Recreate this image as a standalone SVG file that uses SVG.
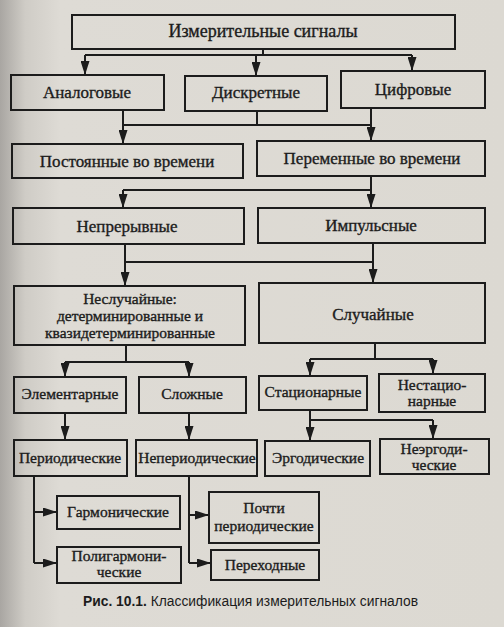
<svg xmlns="http://www.w3.org/2000/svg" width="504" height="627" viewBox="0 0 504 627">
<defs>
<linearGradient id="bg" x1="0" y1="0" x2="1" y2="0">
<stop offset="0" stop-color="#a9a6a2"/>
<stop offset="0.05" stop-color="#cfccc6"/>
<stop offset="0.12" stop-color="#dedbd5"/>
<stop offset="1" stop-color="#dcd9d2"/>
</linearGradient>
<marker id="a" viewBox="0 0 14 9" refX="14" refY="4.5" markerWidth="14" markerHeight="9" markerUnits="userSpaceOnUse" orient="auto">
<path d="M0,0 L14,4.5 L0,9 z" fill="#1c1c1c"/>
</marker>
</defs>
<style>
.b{fill:none;stroke:#1c1c1c;stroke-width:2}
.t{font-family:"Liberation Serif","DejaVu Serif","Times New Roman",serif;fill:#1c1c1c;stroke:#1c1c1c;stroke-width:0.35;text-anchor:middle}
.l{font-size:18px}.m{font-size:17px}.s{font-size:15.5px}
.c{fill:none;stroke:#1c1c1c;stroke-width:2;marker-end:url(#a)}
.p{fill:none;stroke:#1c1c1c;stroke-width:2}
.cap{font-family:"Liberation Sans",Arial,sans-serif;fill:#1c1c1c;font-size:14px}
</style>
<rect x="0" y="0" width="504" height="627" fill="url(#bg)"/>

<g id="connectors">
<path class="p" d="M263,49 V55 M85,55 H412"/>
<path class="c" d="M85,55 V75"/>
<path class="c" d="M256,55 V76"/>
<path class="c" d="M412,55 V71"/>
<path class="p" d="M257,111 V125 M123,125 H371"/>
<path class="c" d="M123,110 V144"/>
<path class="c" d="M371,108 V141"/>
<path class="p" d="M123,190 H371"/>
<path class="c" d="M123,190 V208"/>
<path class="c" d="M371,176 V208"/>
<path class="p" d="M125,262 H373"/>
<path class="c" d="M125,244 V286"/>
<path class="c" d="M373,243 V283"/>
<path class="p" d="M126,345 V362 M65,362 H189"/>
<path class="c" d="M65,362 V377"/>
<path class="c" d="M189,362 V377"/>
<path class="p" d="M375,343 V359 M310,359 H433"/>
<path class="c" d="M310,359 V376"/>
<path class="c" d="M433,359 V374"/>
<path class="c" d="M65,413 V440"/>
<path class="c" d="M189,413 V440"/>
<path class="p" d="M310,410 V420 H433"/>
<path class="c" d="M310,420 V441"/>
<path class="c" d="M433,420 V439"/>
<path class="p" d="M34,476 V563"/>
<path class="c" d="M34,512 H57"/>
<path class="c" d="M34,563 H57"/>
<path class="p" d="M189,476 V563"/>
<path class="c" d="M189,515 H209"/>
<path class="c" d="M189,563 H211"/>
</g>

<g id="n-root"><rect class="b" x="72" y="15" width="383" height="34"/><text class="t l" x="263" y="37">Измерительные сигналы</text></g>
<g id="n-analog"><rect class="b" x="11" y="75" width="153" height="35"/><text class="t m" x="87" y="98">Аналоговые</text></g>
<g id="n-discrete"><rect class="b" x="185" y="76" width="142" height="35"/><text class="t m" x="256" y="98">Дискретные</text></g>
<g id="n-digital"><rect class="b" x="341" y="71" width="144" height="37"/><text class="t m" x="413" y="95">Цифровые</text></g>
<g id="n-const"><rect class="b" x="12" y="144" width="231" height="34"/><text class="t m" x="127" y="167">Постоянные во времени</text></g>
<g id="n-var"><rect class="b" x="257" y="141" width="228" height="35"/><text class="t m" x="372" y="164">Переменные во времени</text></g>
<g id="n-cont"><rect class="b" x="13" y="208" width="231" height="36"/><text class="t m" x="127" y="232">Непрерывные</text></g>
<g id="n-pulse"><rect class="b" x="258" y="208" width="227" height="35"/><text class="t m" x="371" y="231">Импульсные</text></g>
<g id="n-nonrandom"><rect class="b" x="14" y="286" width="231" height="59"/><text class="t s" x="130" y="304">Неслучайные:</text><text class="t s" x="130" y="321">детерминированные и</text><text class="t s" x="130" y="338">квазидетерминированные</text></g>
<g id="n-random"><rect class="b" x="259" y="283" width="226" height="60"/><text class="t m" x="373" y="320">Случайные</text></g>
<g id="n-elem"><rect class="b" x="14" y="377" width="112" height="36"/><text class="t s" x="70" y="399">Элементарные</text></g>
<g id="n-complex"><rect class="b" x="139" y="377" width="107" height="36"/><text class="t s" x="192" y="399">Сложные</text></g>
<g id="n-stat"><rect class="b" x="259" y="376" width="108" height="34"/><text class="t s" x="313" y="397">Стационарные</text></g>
<g id="n-nonstat"><rect class="b" x="379" y="374" width="106" height="38"/><text class="t s" x="432" y="390">Нестацио-</text><text class="t s" x="432" y="406">нарные</text></g>
<g id="n-periodic"><rect class="b" x="14" y="440" width="113" height="36"/><text class="t s" x="70" y="463">Периодические</text></g>
<g id="n-aperiodic"><rect class="b" x="136" y="440" width="121" height="36"/><text class="t s" x="197" y="463">Непериодические</text></g>
<g id="n-ergodic"><rect class="b" x="265" y="441" width="105" height="35"/><text class="t s" x="318" y="463">Эргодические</text></g>
<g id="n-nonergodic"><rect class="b" x="380" y="439" width="109" height="35"/><text class="t s" x="434" y="454">Неэргоди-</text><text class="t s" x="434" y="470">ческие</text></g>
<g id="n-harm"><rect class="b" x="57" y="496" width="123" height="33"/><text class="t s" x="118" y="517">Гармонические</text></g>
<g id="n-polyharm"><rect class="b" x="57" y="547" width="124" height="36"/><text class="t s" x="119" y="561">Полигармони-</text><text class="t s" x="119" y="577">ческие</text></g>
<g id="n-almost"><rect class="b" x="209" y="492" width="110" height="51"/><text class="t s" x="264" y="513">Почти</text><text class="t s" x="264" y="531">периодические</text></g>
<g id="n-trans"><rect class="b" x="211" y="550" width="108" height="30"/><text class="t s" x="265" y="570">Переходные</text></g>

<text class="cap" x="83" y="606" textLength="335" lengthAdjust="spacingAndGlyphs"><tspan font-weight="bold">Рис. 10.1.</tspan> Классификация измерительных сигналов</text>
</svg>
